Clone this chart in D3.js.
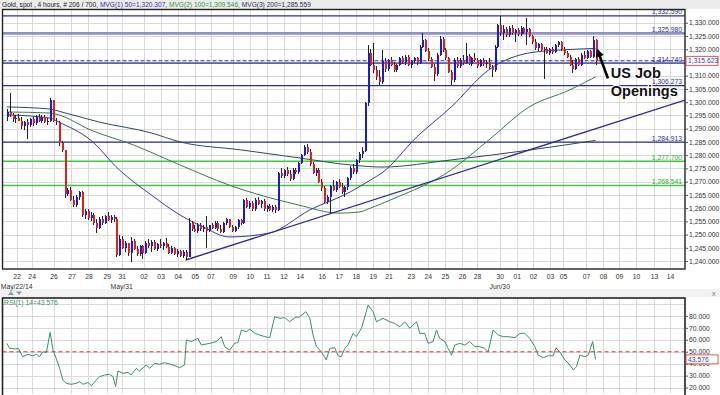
<!DOCTYPE html>
<html>
<head>
<meta charset="utf-8">
<script src="https://d3js.org/d3.v7.min.js"></script>
<style>
body { margin: 0; background: #fff; }
svg { display: block; font-family: "Liberation Sans", Arial, sans-serif; }
</style>
</head>
<body>
<svg id="chart" width="720" height="395"></svg>
<script>
// 4 hour gold candles, [open, high, low, close]
var candles = [
[1294.5,1297.5,1293,1296.4],[1296.4,1303.4,1294.5,1295],[1295,1296,1292.5,1293.5],[1293.5,1295,1292,1294],
[1294,1295.5,1292.8,1293],[1293,1294.5,1290,1291],[1291,1293,1289.5,1292.5],[1292.5,1293.5,1286,1291.5],
[1291.5,1294,1290.5,1293.5],[1293.5,1294.5,1291,1292],[1292,1295,1291.5,1294.5],[1294.5,1295.5,1292.5,1293],
[1293,1295,1292,1294.5],[1294.5,1295,1292,1292.5],[1292.5,1294,1291.5,1293],[1293,1301.5,1292.5,1300.8],
[1300.8,1301,1292.5,1293],[1293,1294,1291.5,1292.5],[1292.5,1293,1283.5,1284.6],[1284.6,1285.5,1281.3,1281.8],
[1281.8,1282,1264,1265.2],[1265.2,1267.5,1264.5,1267],[1267,1268,1262.5,1263],[1263,1264.5,1260.5,1261.2],
[1261.2,1265,1260.5,1264.2],[1264.2,1266.5,1263,1266],[1266,1266.5,1256.5,1257.4],[1257.4,1259.5,1256,1258.8],
[1258.8,1259.8,1255.5,1256.2],[1256.2,1258.5,1255,1257.5],[1257.5,1258,1253.8,1254.4],[1254.4,1256,1250.6,1252.5],
[1252.5,1256.5,1252,1255.8],[1255.8,1257,1253.5,1254.5],[1254.5,1257.5,1254,1257],[1257,1258.5,1255,1255.5],
[1255.5,1257.5,1254.5,1256.8],[1256.8,1257.4,1254.8,1256],[1256,1256.5,1241.5,1242.4],[1242.4,1249.8,1241.8,1248.5],
[1248.5,1249.5,1244.5,1245],[1245,1247.5,1243.5,1246.8],[1246.8,1247,1242,1243],[1243,1249,1239.8,1247.5],
[1247.5,1248.5,1244,1244.5],[1244.5,1245.8,1242,1242.5],[1242.5,1246,1241.8,1245.5],[1245.5,1246.2,1240.6,1243.2],
[1243.2,1247.5,1242.8,1247],[1247,1248.5,1244.8,1245.5],[1245.5,1247.8,1243.5,1247.2],[1247.2,1247.8,1244,1244.6],
[1244.6,1247,1243.8,1246.5],[1246.5,1248.2,1245,1245.6],[1245.6,1247.2,1244.2,1246.8],[1246.8,1248.8,1245,1245.3],
[1245.3,1246.5,1242.5,1243],[1243,1245.8,1242.5,1244.8],[1244.8,1245.2,1242.2,1242.8],[1242.8,1244.5,1241.5,1243.8],
[1243.8,1244.2,1241.5,1242],[1242,1244,1241.2,1243.5],[1243.5,1244,1240.4,1241.7],[1241.7,1256.3,1241.5,1254.2],
[1254.2,1255,1251.5,1252],[1252,1253.5,1250.8,1251.2],[1251.2,1254.5,1250.5,1253.8],[1253.8,1254.2,1251.5,1252],
[1252,1253.5,1251,1252.8],[1252.8,1257,1245,1251.5],[1251.5,1253.8,1250.8,1253.5],[1253.5,1254.5,1252,1252.5],
[1252.5,1255,1252,1254.5],[1254.5,1255,1251.5,1252],[1252,1253.5,1250.5,1251],[1251,1254.8,1250.5,1254.5],
[1254.5,1256.3,1253.8,1255.8],[1255.8,1256,1252.5,1253],[1253,1253.8,1251,1251.5],[1251.5,1253.2,1250.8,1252.8],
[1252.8,1255.8,1252.2,1255.5],[1255.5,1256,1253.8,1254.5],[1254.5,1263.5,1254,1263],[1263,1264,1260,1260.5],
[1260.5,1262.5,1259.5,1261.8],[1261.8,1262.5,1259,1259.5],[1259.5,1263.8,1259,1263.2],[1263.2,1264.3,1261,1261.5],
[1261.5,1263,1260.2,1262.5],[1262.5,1263.5,1259,1259.6],[1259.6,1261.2,1258.5,1260.8],[1260.8,1261.5,1258.8,1259.3],
[1259.3,1261,1258.5,1260.5],[1260.5,1261,1258.2,1259.3],[1259.3,1273.5,1259,1273.1],[1273.1,1275,1271.5,1272],
[1272,1274.8,1271.2,1274.2],[1274.2,1275.5,1272.2,1272.8],[1272.8,1274.5,1270.2,1270.8],[1270.8,1275,1270.5,1274.5],
[1274.5,1275.3,1272.8,1273.5],[1273.5,1277.5,1273,1277],[1277,1280.5,1276.5,1280],[1280,1283.8,1279.5,1283.2],
[1283.2,1284.2,1280.5,1281.3],[1281.3,1282.5,1276,1276.5],[1276.5,1277.5,1272.8,1273.3],[1273.3,1275,1272,1274.4],
[1274.4,1275,1269.5,1270],[1270,1271,1266.5,1267.5],[1267.5,1268.5,1262,1262.4],[1262.4,1265,1261.5,1264.2],
[1264.2,1268.8,1258,1268.3],[1268.3,1270.5,1266.5,1267],[1267,1270.2,1266,1269.8],[1269.8,1271,1267.5,1268],
[1268,1269.5,1265.5,1266],[1266,1268.2,1264.3,1267.8],[1267.8,1271.8,1267,1271.2],[1271.2,1275.8,1270.5,1275.2],
[1275.2,1276.5,1272.8,1273.8],[1273.8,1278.5,1273,1278],[1278,1281.2,1277,1280.6],[1280.6,1283,1278.8,1281.5],
[1281.5,1300.2,1281,1299.6],[1299.6,1321.6,1298.5,1318.5],[1318.5,1320,1313.5,1314],[1314,1322.3,1311,1312],
[1312,1313.8,1308.5,1309.5],[1309.5,1312,1306.5,1307.6],[1307.6,1319.7,1307,1315.6],[1315.6,1316.5,1311.5,1312.4],
[1312.4,1316.2,1311.8,1315.8],[1315.8,1317,1313.5,1314],[1314,1315.2,1311.4,1312],[1312,1314.5,1311.5,1314.2],
[1314.2,1317.2,1313.8,1316.8],[1316.8,1317.5,1314.5,1315],[1315,1317.8,1314.2,1317.2],[1317.2,1318,1313.5,1314],
[1314,1316,1312.8,1315.5],[1315.5,1317,1314.8,1316.6],[1316.6,1317.2,1314,1314.8],[1314.8,1321.5,1314.5,1321],
[1321,1326,1320.5,1323.5],[1323.5,1324,1318.8,1319.5],[1319.5,1320.5,1315.5,1316.2],[1316.2,1317,1312.8,1313.3],
[1313.3,1314.5,1308,1310.5],[1310.5,1318.5,1310,1318],[1318,1325,1317.5,1324],[1324,1324.6,1319,1319.7],
[1319.7,1320.5,1315.8,1316.5],[1316.5,1317.2,1311,1311.4],[1311.4,1312,1306.5,1308.2],[1308.2,1316.5,1307.5,1316],
[1316,1317.2,1313,1313.5],[1313.5,1316.5,1312.8,1316],[1316,1317.8,1314.2,1314.8],[1314.8,1322.3,1314.5,1317.5],
[1317.5,1318.2,1314,1314.6],[1314.6,1317,1313.8,1316.5],[1316.5,1318.5,1315.2,1315.8],[1315.8,1316.8,1313,1313.6],
[1313.6,1316.2,1313.2,1315.8],[1315.8,1316.5,1313.8,1314.4],[1314.4,1315.8,1313,1315.2],[1315.2,1316.5,1312.5,1313.4],
[1313.4,1314,1309.5,1312],[1312,1321.5,1311.5,1321],[1321,1329.5,1320.5,1329],[1329,1332.5,1325,1326],
[1326,1329,1323.5,1327.8],[1327.8,1328.5,1324.8,1325.5],[1325.5,1328.8,1324.8,1328.2],[1328.2,1329,1325.5,1326],
[1326,1327.8,1322.8,1327.2],[1327.2,1328,1325,1325.6],[1325.6,1328.6,1325,1328],[1328,1328.5,1325.8,1326.4],
[1326.4,1331.7,1321.6,1327.6],[1327.6,1328.2,1324.5,1325],[1325,1325.5,1322,1322.8],[1322.8,1324,1319.8,1320.5],
[1320.5,1322.5,1319.5,1321.8],[1321.8,1322.2,1319.2,1319.6],[1319.6,1321,1308.8,1320.2],[1320.2,1320.8,1318.2,1318.6],
[1318.6,1320.6,1318,1320.2],[1320.2,1320.8,1318.2,1318.8],[1318.8,1322,1318.5,1321.6],[1321.6,1323.2,1320.8,1322.8],
[1322.8,1323,1319.5,1320],[1320,1320.8,1317.8,1318.4],[1318.4,1319.5,1316.8,1317.2],[1317.2,1317.8,1313.5,1314],
[1314,1316,1311,1312.4],[1312.4,1316.8,1312,1316.2],[1316.2,1317,1313.5,1314.2],[1314.2,1318.5,1313.8,1318],
[1318,1319.2,1316.2,1316.8],[1316.8,1319.8,1316.2,1319.2],[1319.2,1319.8,1316.5,1317],[1317,1325,1316.5,1323.5],
[1323.5,1324,1314,1315.623]
];

// day ticks (bar position) and labels
var dayTicks = [3.4,8.6,16.2,22.4,28.3,34.6,39.8,47.4,53.3,59.2,65.1,70.6,78.3,84.2,90,95.9,101.5,109.1,115,120.9,
  126.8,132.3,140,145.9,151.8,157.7,162.9,170.8,176.7,182.3,188.2,192.7,200.7,206.6,212.1,218,224.3,229.8];
var dayLabels = ["22","24","26","27","28","29","31","02","03","04","05","07","09","10","11","12","14","16","17","18",
  "19","21","23","24","25","26","28","30","01","02","03","05","07","08","09","10","13","14"];
var monthTicks = [3.4, 39.8, 170.8];
var monthLabels = ["May/22/14", "May/31", "Jun/30"];

// horizontal levels
var levelValues = [1332.59, 1325.98, 1314.74, 1306.273, 1284.913, 1277.7, 1268.541];
var levelKinds = ["blue", "wide", "blue", "blue", "blue", "green", "green"];

// moving averages
var ma50Bars = [0,15,18,29,39,50,60,68,77,91,105,119,126,130,142,154,167,181,192,204];
var ma50Vals = [1295.2,1294,1292.5,1285.7,1274.4,1265,1257.4,1252.9,1249.1,1250.6,1259.3,1266.1,1270.6,1273.3,1286.8,1298.2,1312.2,1318.6,1319.7,1320.307];
var ma100Bars = [0,15,18,29,44,60,77,101,115,122,126,133,154,167,181,195,204];
var ma100Vals = [1296.3,1295.9,1295.2,1289.5,1283.8,1276.3,1268.7,1261.2,1258.1,1258.5,1260,1263.1,1274.4,1285.7,1298.2,1304.6,1309.546];
var ma200Bars = [0,15,18,32,50,60,81,101,119,130,154,181,204];
var ma200Vals = [1298.2,1297.4,1296.6,1292.5,1288.4,1285,1282,1279,1276.3,1275.5,1278.2,1281.9,1285.559];

// trendline from the June 4 low
var trendBars = [62, 235];
var trendVals = [1240.4, 1300.8];

// RSI(14)
var rsiBars = [0,1,3,4,5.5,7.3,9,10.2,11.3,12.5,13.7,15,16,17.1,18.3,19.4,20.6,22.3,24,25.2,26.4,28.1,29.3,31,32.1,33.9,
  35.6,36.8,37.7,38.5,40.2,42,43.1,44.9,46,48.3,49.5,51.2,52.9,54.7,57.6,59.9,61.6,62.2,63.9,66.2,67.4,70.3,72.6,74.3,
  75.5,77.2,78.9,80.1,81.3,83,84.2,85.9,87.6,89.4,91.1,92.8,94.6,96.3,98,99.8,101.5,103.6,105,106.1,107.3,109,110.7,
  111.9,113.6,114.8,115.9,117.1,118.2,120,121.1,122.9,125.2,126.9,128.1,130.4,132.7,134.4,136.2,137.9,139.6,142,143.1,
  144.8,146,147.7,148.9,150,151.8,152.9,154.1,155.2,157,158.7,160.4,162.2,163.9,165.6,166.8,168.5,170.3,172,173.7,
  176.1,177.8,179.5,181.2,183,184.1,185.9,187.6,189.3,190.3,191.6,193.4,195.1,196.3,197.4,198.6,200.3,201.5,203,204];
var rsiVals = [57,52.8,52.3,52.8,45.8,47.8,46.6,47.8,45.8,50,49.4,66.2,51.4,44.5,36.1,26.3,23.5,22.7,23.5,24.9,22.7,24.2,
  21.5,26.3,29.1,30.5,31.1,29.1,20.7,33.8,31.9,32.7,30.5,36.1,33.8,38.9,36.1,40.3,39.5,40.8,38.9,36.6,38.9,59.8,58.5,
  61.2,55.6,57,58.5,62.6,54.2,51.4,57,57.8,68.2,66.8,69,65.4,64,62.6,61.8,79.3,78,78.5,75.1,78.5,79.3,83.5,78,64,54.2,
  50,43.1,52.8,53.3,46.6,45.8,52.8,55.6,65.4,62.6,69.6,89.1,83.5,75.1,78,75.1,73.7,70.9,75.1,69.6,75.1,65.4,65.4,57,
  58.5,68.2,61.2,58.5,52.8,47.2,55.6,57,55.6,58.5,54.2,54.2,52.8,50,68.2,64,62.6,62.6,61.8,65.4,65.4,61.2,54.2,47.2,
  45,46.6,46.6,53.3,50,43.1,38.9,34.7,37.5,47.2,45.8,47.2,58.5,43.576];

var lastPrice = 1315.623;
var lastRsi = 43.576;

var svg = d3.select("#chart");
var fmt = d3.format(",.3f");
var left = 2.5, right = 685;

var x = d3.scaleLinear().domain([-1.5, 235]).range([left, right]);
var y = d3.scaleLinear().domain([1237, 1335]).range([269, 9.5]);
var yr = d3.scaleLinear().domain([15, 95]).range([393.5, 298]);

// title strip
svg.append("rect").attr("x", 0).attr("y", 0).attr("width", 720).attr("height", 9).attr("fill", "#ececec");
var title = svg.append("text").attr("x", 2).attr("y", 7).attr("font-size", 6.6);
title.append("tspan").attr("fill", "#222").text("Gold, spot , 4 hours, # 206 / 700, ");
title.append("tspan").attr("fill", "#3333aa").text("MVG(1) 50=1,320.307, ");
title.append("tspan").attr("fill", "#339933").text("MVG(2) 100=1,309.546, ");
title.append("tspan").attr("fill", "#223355").text("MVG(3) 200=1,285.559");

// separator strip between panels
svg.append("rect").attr("x", 0).attr("y", 289).attr("width", 720).attr("height", 8).attr("fill", "#f1f1f1");
svg.append("path").attr("d", "M8,295 L11,291.5 L14,295 Z M16,291.5 L22,291.5 L19,295 Z").attr("fill", "#8a9ab0");
svg.append("text").attr("x", 712).attr("y", 296).attr("font-size", 7).attr("fill", "#777").text("x");

function panelGrid(g, yScale, yTicks, top, bottom) {
  g.selectAll("line.v").data(dayTicks).enter().append("line")
    .attr("x1", function(d) { return Math.round(x(d)) + 0.5; })
    .attr("x2", function(d) { return Math.round(x(d)) + 0.5; })
    .attr("y1", top).attr("y2", bottom)
    .attr("stroke", "#dadada");
  g.selectAll("line.h").data(yTicks).enter().append("line")
    .attr("x1", left).attr("x2", right)
    .attr("y1", function(d) { return Math.round(yScale(d)) + 0.5; })
    .attr("y2", function(d) { return Math.round(yScale(d)) + 0.5; })
    .attr("stroke", "#dadada");
}

// ---------- main price panel ----------
svg.append("rect").attr("x", left).attr("y", 9.5).attr("width", right - left).attr("height", 259.5).attr("fill", "#fff");
panelGrid(svg.append("g"), y, d3.range(1240, 1335, 5), 9.5, 269);

svg.append("clipPath").attr("id", "clipMain").append("rect")
  .attr("x", left).attr("y", 9.5).attr("width", right - left).attr("height", 259.5);
var main = svg.append("g").attr("clip-path", "url(#clipMain)");

// levels
var levelColor = { blue: "#2e2e8a", wide: "#8f8fd2", green: "#3ccf3c" };
var levelWidth = { blue: 1.3, wide: 2.6, green: 1.3 };
main.selectAll("line.level").data(levelValues).enter().append("line")
  .attr("x1", left).attr("x2", right)
  .attr("y1", function(d) { return y(d); }).attr("y2", function(d) { return y(d); })
  .attr("stroke", function(d, i) { return levelColor[levelKinds[i]]; })
  .attr("stroke-width", function(d, i) { return levelWidth[levelKinds[i]]; });
main.append("line").attr("x1", left).attr("x2", right)
  .attr("y1", y(lastPrice)).attr("y2", y(lastPrice))
  .attr("stroke", "#2e2e8a").attr("stroke-width", 1).attr("stroke-dasharray", "4,2");
svg.selectAll("text.level").data(levelValues).enter().append("text")
  .attr("x", right - 3).attr("y", function(d) { return y(d) - 1.5; })
  .attr("text-anchor", "end").attr("font-size", 6.8)
  .attr("fill", function(d, i) { return levelKinds[i] == "green" ? "#2faa2f" : "#2e2e9a"; })
  .text(function(d) { return fmt(d); });

// moving averages and trendline
function maLine(bars, vals, color) {
  var pts = bars.map(function(b, i) { return [b, vals[i]]; });
  main.append("path").datum(pts)
    .attr("fill", "none").attr("stroke", color).attr("stroke-width", 1)
    .attr("d", d3.line().curve(d3.curveMonotoneX)
      .x(function(d) { return x(d[0]); }).y(function(d) { return y(d[1]); }));
}
maLine(ma200Bars, ma200Vals, "#2f4a60");
maLine(ma100Bars, ma100Vals, "#3d7a4a");
maLine(ma50Bars, ma50Vals, "#3a3a9a");

main.append("line")
  .attr("x1", x(trendBars[0])).attr("y1", y(trendVals[0]))
  .attr("x2", x(trendBars[1])).attr("y2", y(trendVals[1]))
  .attr("stroke", "#2e2e8a").attr("stroke-width", 1.4);

// candles
var cg = main.append("g").attr("shape-rendering", "crispEdges");
var bar = cg.selectAll("g").data(candles).enter().append("g");
bar.append("line")
  .attr("x1", function(d, i) { return Math.round(x(i)) + 0.5; })
  .attr("x2", function(d, i) { return Math.round(x(i)) + 0.5; })
  .attr("y1", function(d) { return y(d[1]); }).attr("y2", function(d) { return y(d[2]); })
  .attr("stroke", "#222");
bar.append("rect")
  .attr("x", function(d, i) { return Math.round(x(i)) - 0.5; })
  .attr("width", 2)
  .attr("y", function(d) { return y(Math.max(d[0], d[3])); })
  .attr("height", function(d) { return Math.max(1, Math.abs(y(d[0]) - y(d[3]))); })
  .attr("fill", function(d) { return d[3] >= d[0] ? "#1c1ccc" : "#dd2020"; });

// annotation
svg.append("defs").append("marker")
  .attr("id", "head").attr("viewBox", "0 -5 10 10")
  .attr("refX", 8).attr("refY", 0)
  .attr("markerWidth", 3.2).attr("markerHeight", 3.2)
  .attr("orient", "auto")
  .append("path").attr("d", "M0,-5L10,0L0,5Z").attr("fill", "#000");
svg.append("line")
  .attr("x1", x(208.3)).attr("y1", y(1309))
  .attr("x2", x(204.7)).attr("y2", y(1319.6))
  .attr("stroke", "#000").attr("stroke-width", 2.6)
  .attr("marker-end", "url(#head)");
var note = svg.append("g").attr("font-size", 14.5).attr("font-weight", "bold");
[["US Job", 78], ["Openings", 96]].forEach(function(t) {
  note.append("text").attr("x", x(209.3) + 1).attr("y", t[1] + 1).attr("fill", "#999").text(t[0]);
  note.append("text").attr("x", x(209.3)).attr("y", t[1])
    .attr("fill", "#111").attr("stroke", "#fff").attr("stroke-width", 2.5)
    .attr("paint-order", "stroke").text(t[0]);
});

// frame and axes
svg.append("rect").attr("x", left).attr("y", 9.5).attr("width", right - left).attr("height", 259.5)
  .attr("fill", "none").attr("stroke", "#222").attr("stroke-width", 1.4);

// the 1,315 label sits under the last price box, so it is left out
var yAxis = svg.append("g").attr("transform", "translate(" + right + ",0)")
  .call(d3.axisRight(y).tickValues(d3.range(1240, 1331, 5)).tickSize(3).tickPadding(1)
    .tickFormat(function(d) { return d == 1315 ? "" : fmt(d); }));
yAxis.select(".domain").remove();
yAxis.selectAll("text").attr("font-size", 6.8).attr("fill", "#333").attr("font-family", "Liberation Sans, Arial, sans-serif");
yAxis.selectAll("line").attr("stroke", "#555");

var xAxis = svg.append("g").attr("transform", "translate(0,269)")
  .call(d3.axisBottom(x).tickValues(dayTicks).tickFormat(function(d, i) { return dayLabels[i]; }).tickSize(0).tickPadding(5));
xAxis.select(".domain").remove();
xAxis.selectAll("text").attr("font-size", 6.8).attr("fill", "#333").attr("font-family", "Liberation Sans, Arial, sans-serif");

svg.selectAll("text.month").data(monthTicks).enter().append("text")
  .attr("x", function(d) { return x(d); }).attr("y", 289)
  .attr("text-anchor", "middle").attr("font-size", 6.8).attr("fill", "#333")
  .text(function(d, i) { return monthLabels[i]; });

// last price box
svg.append("rect").attr("x", right + 1).attr("y", y(lastPrice) - 4.5).attr("width", 32).attr("height", 9)
  .attr("fill", "#fff").attr("stroke", "#d03030").attr("stroke-width", 0.8);
svg.append("text").attr("x", right + 3).attr("y", y(lastPrice) + 2.5).attr("font-size", 6.8).attr("fill", "#3a3aa0").text(fmt(lastPrice));

// ---------- RSI panel ----------
svg.append("rect").attr("x", left).attr("y", 298).attr("width", right - left).attr("height", 95.5).attr("fill", "#fff");
panelGrid(svg.append("g"), yr, d3.range(20, 95, 10), 298, 393.5);

var rsiPts = rsiBars.map(function(b, i) { return [b, rsiVals[i]]; });
svg.append("line").attr("x1", left).attr("x2", right).attr("y1", yr(50)).attr("y2", yr(50))
  .attr("stroke", "#d93a3a").attr("stroke-width", 1.1).attr("stroke-dasharray", "4,3");
svg.append("path").datum(rsiPts)
  .attr("fill", "none").attr("stroke", "#3a8f66").attr("stroke-width", 1)
  .attr("d", d3.line().x(function(d) { return x(d[0]); }).y(function(d) { return yr(d[1]); }));

svg.append("rect").attr("x", left).attr("y", 298).attr("width", right - left).attr("height", 100)
  .attr("fill", "none").attr("stroke", "#222").attr("stroke-width", 1.6);
svg.append("text").attr("x", 4).attr("y", 305).attr("font-size", 6.8).attr("fill", "#3a8f66")
  .text("RSI(1) 14=" + lastRsi);

var rAxis = svg.append("g").attr("transform", "translate(" + right + ",0)")
  .call(d3.axisRight(yr).tickValues(d3.range(20, 81, 10)).tickFormat(d3.format(".3f")).tickSize(3).tickPadding(1));
rAxis.select(".domain").remove();
rAxis.selectAll("text").attr("font-size", 6.8).attr("fill", "#333").attr("font-family", "Liberation Sans, Arial, sans-serif");
rAxis.selectAll("line").attr("stroke", "#555");

svg.append("rect").attr("x", right + 1).attr("y", yr(lastRsi) - 4.5).attr("width", 32).attr("height", 9)
  .attr("fill", "#fff").attr("stroke", "#d03030").attr("stroke-width", 0.8);
svg.append("text").attr("x", right + 3).attr("y", yr(lastRsi) + 2.5).attr("font-size", 6.8).attr("fill", "#3a3aa0").text(d3.format(".3f")(lastRsi));
</script>
</body>
</html>
